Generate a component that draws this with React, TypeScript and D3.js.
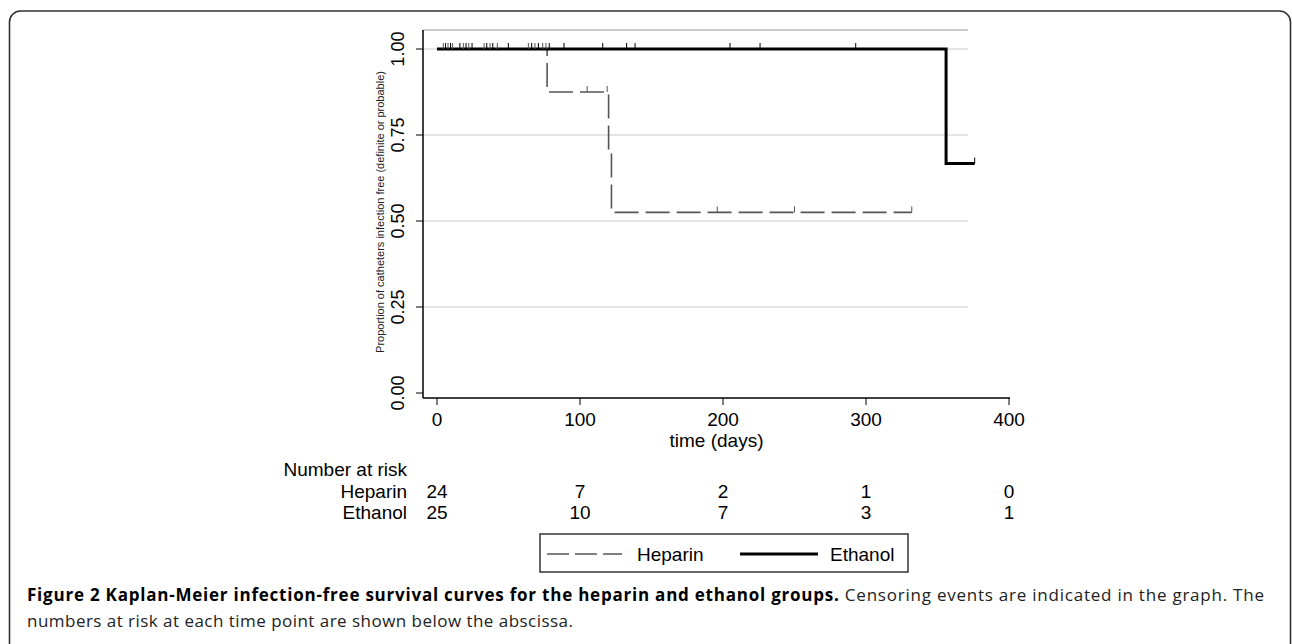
import * as d3 from 'd3';

// Kaplan-Meier steps (time in days, survival proportion)
const heparinTimes = [0, 77, 120, 122, 332];
const heparinSurv = [1, 0.875, 0.7, 0.525, 0.525];
const ethanolTimes = [0, 356, 376];
const ethanolSurv = [1, 0.667, 0.667];

// censoring events (days)
const heparinCensor = [4.4, 7.7, 10.9, 18.4, 22.2, 32.9, 37.1, 42.2, 63.9, 68.5, 73.9, 76.2, 105, 119, 196, 250, 332];
const ethanolCensor = [6, 9.5, 16, 20.3, 24.5, 34.8, 39, 49.9, 66.2, 70.9, 78.5, 88.8, 115.9, 132.6, 138.5, 204.9, 225.9, 292.8, 376];

const xTicks = [0, 100, 200, 300, 400];
const yTicks = [0, 0.25, 0.5, 0.75, 1];
const yTickLabels = ['0.00', '0.25', '0.50', '0.75', '1.00'];
const groups = ['Heparin', 'Ethanol'];
const heparinAtRisk = [24, 7, 2, 1, 0];
const ethanolAtRisk = [25, 10, 7, 3, 1];

const W = 1292;
const H = 644;
const font = '"Liberation Sans", Arial, sans-serif';
const capFont = '"Open Sans", sans-serif';

function survAt(times: number[], surv: number[], t: number) {
  let s = surv[0];
  for (let i = 0; i < times.length; i++) if (times[i] <= t) s = surv[i];
  return s;
}

export default function App() {
  const left = 423;
  const right = 968;
  const axisRight = 1010;
  const top = 30;
  const bottom = 398;

  const x = d3.scaleLinear().domain([0, 400]).range([437, 1009]);
  const y = d3.scaleLinear().domain([0, 1]).range([393, 49]);

  const line = d3
    .line<[number, number]>()
    .x((d) => x(d[0]))
    .y((d) => y(d[1]))
    .curve(d3.curveStepAfter);

  const hepPts = heparinTimes.map((t, i) => [t, heparinSurv[i]] as [number, number]);
  const ethPts = ethanolTimes.map((t, i) => [t, ethanolSurv[i]] as [number, number]);

  const rows = [heparinAtRisk, ethanolAtRisk];

  return (
    <div style={{ position: 'fixed', left: 0, top: 0, width: W, height: H, background: '#fff' }}>
      <svg width={W} height={H} style={{ display: 'block' }}>
        <rect x={9.5} y={11} width={1281} height={700} rx={11} fill="none" stroke="#333" strokeWidth={1.6} />

        {/* grid */}
        {yTicks.filter((v) => v > 0).map((v) => (
          <line key={v} x1={left} x2={right} y1={y(v)} y2={y(v)} stroke="#dcdcdc" strokeWidth={1.5} />
        ))}
        <line x1={left} x2={right} y1={top} y2={top} stroke="#999" strokeWidth={1} />

        {/* axes */}
        <line x1={left} x2={left} y1={top} y2={bottom} stroke="#000" strokeWidth={1.5} />
        <line x1={left} x2={axisRight} y1={bottom} y2={bottom} stroke="#000" strokeWidth={1.5} />
        {yTicks.map((v, i) => (
          <g key={v}>
            <line x1={left - 7} x2={left} y1={y(v)} y2={y(v)} stroke="#000" strokeWidth={1} />
            <text
              transform={`translate(404,${y(v)}) rotate(-90)`}
              textAnchor="middle"
              fontFamily={font}
              fontSize={18}
            >
              {yTickLabels[i]}
            </text>
          </g>
        ))}
        {xTicks.map((v) => (
          <g key={v}>
            <line x1={x(v)} x2={x(v)} y1={bottom} y2={bottom + 7} stroke="#000" strokeWidth={1} />
            <text x={x(v)} y={426} textAnchor="middle" fontFamily={font} fontSize={19}>
              {v}
            </text>
          </g>
        ))}
        <text x={(left + axisRight) / 2} y={447} textAnchor="middle" fontFamily={font} fontSize={19}>
          time (days)
        </text>
        <text
          transform={`translate(384,212) rotate(-90)`}
          textAnchor="middle"
          fontFamily={font}
          fontSize={11}
          fill="#222"
        >
          Proportion of catheters infection free (definite or probable)
        </text>

        {/* curves */}
        <path d={line(hepPts) || ''} fill="none" stroke="#555" strokeWidth={1.6} strokeDasharray="24 7" />
        <path d={line(ethPts) || ''} fill="none" stroke="#000" strokeWidth={3} />
        {heparinCensor.map((t, i) => {
          const s = survAt(heparinTimes, heparinSurv, t);
          return <line key={'h' + i} x1={x(t)} x2={x(t)} y1={y(s)} y2={y(s) - 6} stroke="#555" strokeWidth={1} />;
        })}
        {ethanolCensor.map((t, i) => {
          const s = survAt(ethanolTimes, ethanolSurv, t);
          return <line key={'e' + i} x1={x(t)} x2={x(t)} y1={y(s)} y2={y(s) - 6} stroke="#000" strokeWidth={1} />;
        })}

        {/* number at risk */}
        <text x={407} y={476} textAnchor="end" fontFamily={font} fontSize={19}>
          Number at risk
        </text>
        {groups.map((g, gi) => (
          <g key={g}>
            <text x={407} y={498 + gi * 21} textAnchor="end" fontFamily={font} fontSize={19}>
              {g}
            </text>
            {rows[gi].map((n, i) => (
              <text key={i} x={x(xTicks[i])} y={498 + gi * 21} textAnchor="middle" fontFamily={font} fontSize={19}>
                {n}
              </text>
            ))}
          </g>
        ))}

        {/* legend */}
        <rect x={540} y={534} width={368} height={38} fill="none" stroke="#333" strokeWidth={1.5} />
        <line x1={547} x2={622} y1={554} y2={554} stroke="#555" strokeWidth={1.6} strokeDasharray="22 6" />
        <text x={637} y={561} fontFamily={font} fontSize={19}>
          {groups[0]}
        </text>
        <line x1={740} x2={818} y1={554} y2={554} stroke="#000" strokeWidth={3} />
        <text x={830} y={561} fontFamily={font} fontSize={19}>
          {groups[1]}
        </text>

        {/* caption */}
        <text x={27} y={601} fontFamily={capFont} fontSize={17} fill="#222" textLength={1237} lengthAdjust="spacing">
          <tspan fontWeight="bold" fill="#000">
            Figure 2 Kaplan-Meier infection-free survival curves for the heparin and ethanol groups.
          </tspan>
          <tspan> Censoring events are indicated in the graph. The</tspan>
        </text>
        <text x={27} y={627} fontFamily={capFont} fontSize={17} fill="#222" textLength={546} lengthAdjust="spacing">
          numbers at risk at each time point are shown below the abscissa.
        </text>
      </svg>
    </div>
  );
}
